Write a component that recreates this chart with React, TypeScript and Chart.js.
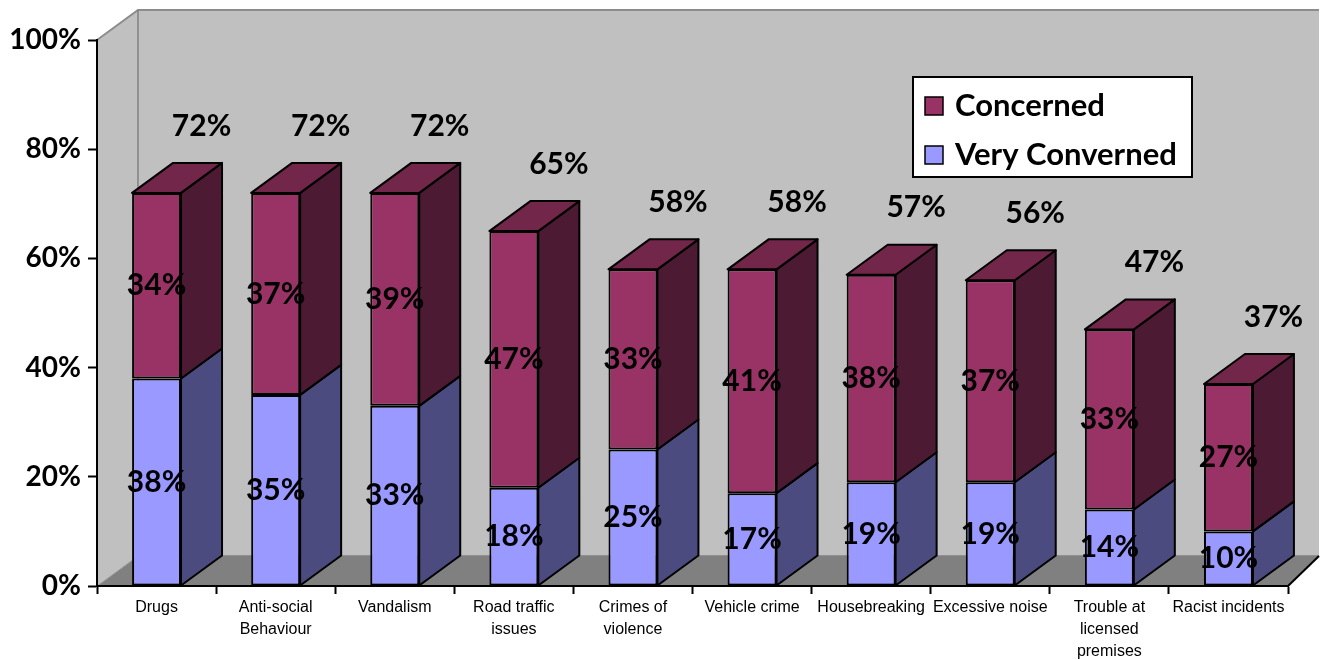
import React, { useEffect, useRef } from "react";
import { Chart, registerables } from "chart.js";
Chart.register(...registerables);

const categories: string[][] = [
  ["Drugs"],
  ["Anti-social", "Behaviour"],
  ["Vandalism"],
  ["Road traffic", "issues"],
  ["Crimes of", "violence"],
  ["Vehicle crime"],
  ["Housebreaking"],
  ["Excessive noise"],
  ["Trouble at", "licensed", "premises"],
  ["Racist incidents"],
];
const veryConcerned = [38, 35, 33, 18, 25, 17, 19, 19, 14, 10];
const concerned = [34, 37, 39, 47, 33, 41, 38, 37, 33, 27];
const yTickValues = [0, 20, 40, 60, 80, 100];
const seriesNames = ["Very Converned", "Concerned"];

const FRONT = ["#9999FF", "#993366"];
const SIDE = ["#4B4B7F", "#4C1A33"];
const TOP = ["#7070C0", "#72264A"];
const DX = 41;
const DY = -30;
const BIG_FONT = "bold 30px Lato, 'DejaVu Sans', sans-serif";

function poly(ctx: CanvasRenderingContext2D, pts: number[][]) {
  ctx.beginPath();
  ctx.moveTo(pts[0][0], pts[0][1]);
  for (let i = 1; i < pts.length; i++) ctx.lineTo(pts[i][0], pts[i][1]);
  ctx.closePath();
}

const threeDPlugin = {
  id: "threeD",
  beforeDraw(chart: any) {
    const { ctx, chartArea: a } = chart;
    const y0 = chart.scales.y.getPixelForValue(0);
    const rb = Math.min(a.right + DX, chart.width - 8);
    ctx.save();
    ctx.fillStyle = "#C0C0C0";
    ctx.fillRect(a.left + DX, a.top + DY, rb - (a.left + DX), y0 - a.top);
    poly(ctx, [[a.left, a.top], [a.left + DX, a.top + DY], [a.left + DX, y0 + DY], [a.left, y0]]);
    ctx.fill();
    ctx.fillStyle = "#808080";
    poly(ctx, [[a.left, y0], [a.left + DX, y0 + DY], [rb, y0 + DY], [a.right, y0]]);
    ctx.fill();
    ctx.strokeStyle = "#8C8C8C";
    ctx.lineWidth = 2;
    ctx.beginPath();
    ctx.moveTo(a.left, a.top);
    ctx.lineTo(a.left + DX, a.top + DY);
    ctx.lineTo(rb, a.top + DY);
    ctx.stroke();
    ctx.strokeStyle = "#808080";
    ctx.lineWidth = 1.5;
    ctx.beginPath();
    ctx.moveTo(a.left + DX, a.top + DY);
    ctx.lineTo(a.left + DX, y0 + DY);
    ctx.lineTo(rb, y0 + DY);
    ctx.stroke();
    ctx.strokeStyle = "#A0A0A0";
    ctx.lineWidth = 1;
    ctx.beginPath();
    ctx.moveTo(a.left, y0);
    ctx.lineTo(a.left + DX, y0 + DY);
    ctx.stroke();
    ctx.strokeStyle = "#000";
    ctx.lineWidth = 2;
    ctx.beginPath();
    ctx.moveTo(a.right, y0);
    ctx.lineTo(rb, y0 + DY);
    ctx.stroke();
    ctx.restore();
  },
  afterDatasetsDraw(chart: any) {
    const { ctx } = chart;
    const n = chart.data.datasets.length;
    ctx.save();
    ctx.lineJoin = "round";
    ctx.lineWidth = 2;
    ctx.strokeStyle = "#000";
    for (let d = 0; d < n; d++) {
      const meta = chart.getDatasetMeta(d);
      meta.data.forEach((bar: any) => {
        const { x, y, base, width } = bar.getProps(["x", "y", "base", "width"], true);
        const l = x - width / 2;
        const r = x + width / 2;
        const t = Math.min(y, base);
        const b = Math.max(y, base);
        ctx.fillStyle = SIDE[d];
        poly(ctx, [[r, t], [r + DX, t + DY], [r + DX, b + DY], [r, b]]);
        ctx.fill();
        ctx.stroke();
        if (d === n - 1) {
          ctx.fillStyle = TOP[d];
          poly(ctx, [[l, t], [l + DX, t + DY], [r + DX, t + DY], [r, t]]);
          ctx.fill();
          ctx.stroke();
        }
      });
    }
    // labels
    ctx.fillStyle = "#000";
    ctx.font = BIG_FONT;
    ctx.textAlign = "center";
    ctx.textBaseline = "middle";
    for (let d = 0; d < n; d++) {
      const meta = chart.getDatasetMeta(d);
      const vals = chart.data.datasets[d].data;
      meta.data.forEach((bar: any, i: number) => {
        const { x, y, base } = bar.getProps(["x", "y", "base"], true);
        ctx.fillText(vals[i] + "%", x, (y + base) / 2);
      });
    }
    const topMeta = chart.getDatasetMeta(n - 1);
    topMeta.data.forEach((bar: any, i: number) => {
      const { x, y } = bar.getProps(["x", "y"], true);
      let total = 0;
      for (let d = 0; d < n; d++) total += chart.data.datasets[d].data[i];
      ctx.fillText(total + "%", x + DX + 4, y + DY - 37);
    });
    ctx.restore();
  },
  afterDraw(chart: any) {
    const { ctx } = chart;
    const bx = 913, by = 77, bw = 279, bh = 100;
    ctx.save();
    ctx.fillStyle = "#FFFFFF";
    ctx.fillRect(bx, by, bw, bh);
    ctx.strokeStyle = "#000";
    ctx.lineWidth = 2;
    ctx.strokeRect(bx, by, bw, bh);
    const order = [1, 0];
    order.forEach((d, k) => {
      const cy = by + 29 + k * 49;
      ctx.fillStyle = FRONT[d];
      ctx.fillRect(bx + 12, cy - 9, 18, 18);
      ctx.lineWidth = 1.5;
      ctx.strokeRect(bx + 12, cy - 9, 18, 18);
      ctx.fillStyle = "#000";
      ctx.font = "bold 31px Lato, 'DejaVu Sans', sans-serif";
      ctx.textAlign = "left";
      ctx.textBaseline = "middle";
      ctx.fillText(chart.data.datasets[d].label, bx + 42, cy);
    });
    ctx.restore();
  },
};

export default function App() {
  const ref = useRef<HTMLCanvasElement | null>(null);
  useEffect(() => {
    if (!ref.current) return;
    const chart = new Chart(ref.current, {
      type: "bar",
      data: {
        labels: categories,
        datasets: [
          {
            label: seriesNames[0],
            data: veryConcerned,
            backgroundColor: FRONT[0],
            borderColor: "#000",
            borderWidth: 2,
            borderSkipped: false,
            barPercentage: 0.411,
            categoryPercentage: 1,
          },
          {
            label: seriesNames[1],
            data: concerned,
            backgroundColor: FRONT[1],
            borderColor: "#000",
            borderWidth: 2,
            borderSkipped: false,
            barPercentage: 0.411,
            categoryPercentage: 1,
          },
        ],
      },
      options: {
        animation: false,
        responsive: false,
        devicePixelRatio: 1,
        layout: { padding: { top: 40, right: 39, left: 0, bottom: 0 } },
        plugins: { legend: { display: false }, tooltip: { enabled: false } },
        scales: {
          x: {
            stacked: true,
            offset: true,
            grid: {
              offset: true,
              drawOnChartArea: false,
              drawTicks: true,
              tickLength: 8,
              tickWidth: 2,
              tickColor: "#000",
            },
            border: { display: true, color: "#000", width: 2 },
            ticks: {
              autoSkip: false,
              maxRotation: 0,
              minRotation: 0,
              padding: 3,
              color: "#000",
              font: { family: "'Liberation Sans', Arial, sans-serif", size: 16, lineHeight: 1.375 },
            },
            afterFit: (s: any) => {
              s.height = 74;
            },
          },
          y: {
            stacked: true,
            min: 0,
            max: 100,
            afterBuildTicks: (s: any) => {
              s.ticks = yTickValues.map((v) => ({ value: v }));
            },
            grid: {
              drawOnChartArea: false,
              drawTicks: true,
              tickLength: 9,
              tickWidth: 2,
              tickColor: "#000",
            },
            border: { display: true, color: "#000", width: 2 },
            ticks: {
              padding: 7,
              color: "#000",
              font: { family: "Lato, 'DejaVu Sans', sans-serif", size: 28, weight: "bold" },
              callback: (v: any) => v + "%",
            },
            afterFit: (s: any) => {
              s.width = 97;
            },
          },
        },
      },
      plugins: [threeDPlugin],
    });
    let alive = true;
    (document as any).fonts?.ready?.then(() => {
      if (alive) chart.update();
    });
    return () => {
      alive = false;
      chart.destroy();
    };
  }, []);
  return (
    <div style={{ position: "absolute", left: 0, top: 0, width: 1327, height: 660, background: "#fff" }}>
      <canvas ref={ref} width={1327} height={660} style={{ display: "block" }} />
    </div>
  );
}
